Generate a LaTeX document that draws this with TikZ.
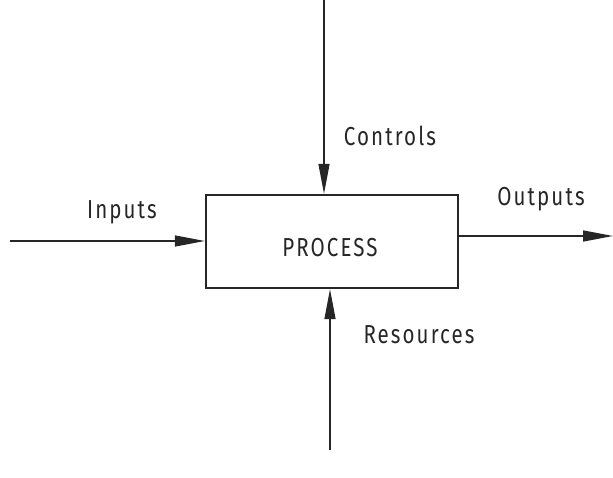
\documentclass[tikz,border=0pt]{standalone}
\usepackage{fontspec}
\setmainfont{Fira Sans}[FakeStretch=0.79,LetterSpace=8]
\usetikzlibrary{arrows.meta}
\begin{document}
\begin{tikzpicture}[x=1pt,y=-1pt,
  lbl/.style={font=\fontsize{26}{30}\selectfont, text=black!85, inner sep=0pt},
  arr/.style={line width=1.4pt, black!85, -{Triangle[length=30pt,width=11pt]}},
  procbox/.style={draw=black!85, line width=2.4pt, minimum width=252pt, minimum height=93pt, inner sep=0pt}]
\useasboundingbox (0,0) rectangle (613,478);
\node[procbox] (proc) at (332,241.5) {};
\node[lbl] (ptext) at (330,248) {PROCESS};
\coordinate (ctop) at (324,0);
\coordinate (cin) at (10,241);
\coordinate (cout) at (613,236);
\coordinate (cres) at (330,450);
\draw[arr] (ctop) -- (ctop |- proc.north);
\draw[arr] (cin) -- (cin -| proc.west);
\draw[arr] (cout -| proc.east) -- (cout);
\draw[arr] (cres) -- (cres |- proc.south);
\node[lbl] (tctrl) at (390,136) {Controls};
\node[lbl] (tin) at (122,212) {Inputs};
\node[lbl] (tout) at (541,199) {Outputs};
\node[lbl] (tres) at (419,335) {Resources};
\end{tikzpicture}
\end{document}
